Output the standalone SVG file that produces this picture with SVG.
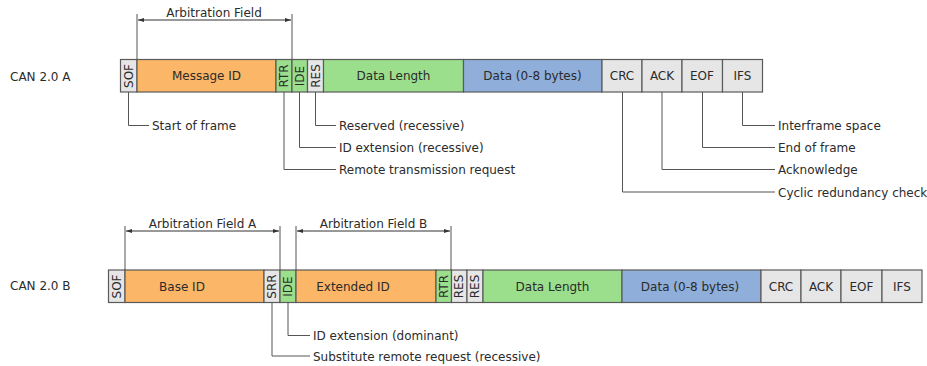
<svg xmlns="http://www.w3.org/2000/svg" width="927" height="366" viewBox="0 0 927 366">
<defs>
<marker id="arr" viewBox="0 0 6 4" refX="6" refY="2" markerWidth="6" markerHeight="4" orient="auto-start-reverse" markerUnits="userSpaceOnUse">
<path d="M0,0 L6,2 L0,4 Z" fill="#333"/>
</marker>
<style>
text{font-family:"DejaVu Sans",Verdana,sans-serif;font-size:12px;fill:#2b2b2b}
.c{text-anchor:middle}
.g{fill:#e6e6e6;stroke:#5a5a5a;stroke-width:1.2}
.o{fill:#fbb668;stroke:#5a5a5a;stroke-width:1.2}
.gr{fill:#9bdf8c;stroke:#5a5a5a;stroke-width:1.2}
.b{fill:#8faed9;stroke:#5a5a5a;stroke-width:1.2}
.ln{fill:none;stroke:#555;stroke-width:1}
.dim{fill:none;stroke:#333;stroke-width:1}
</style>
</defs>
<rect width="927" height="366" fill="#fff"/>
<text x="10" y="81">CAN 2.0 A</text>
<text x="10" y="290">CAN 2.0 B</text>

<g id="a-sof"><rect class="g" x="120.5" y="59.5" width="16.5" height="32.5"/><text class="c" transform="translate(129,76) rotate(-90)" y="4">SOF</text></g>
<g id="a-msgid"><rect class="o" x="137" y="59.5" width="139" height="32.5"/><text class="c" x="206.5" y="80">Message ID</text></g>
<g id="a-rtr"><rect class="gr" x="276" y="59.5" width="16" height="32.5"/><text class="c" transform="translate(284,76) rotate(-90)" y="4">RTR</text></g>
<g id="a-ide"><rect class="gr" x="292" y="59.5" width="15.5" height="32.5"/><text class="c" transform="translate(299.8,76) rotate(-90)" y="4">IDE</text></g>
<g id="a-res"><rect class="g" x="307.5" y="59.5" width="16" height="32.5"/><text class="c" transform="translate(315.5,76) rotate(-90)" y="4">RES</text></g>
<g id="a-dlc"><rect class="gr" x="323.5" y="59.5" width="140" height="32.5"/><text class="c" x="393.5" y="80">Data Length</text></g>
<g id="a-data"><rect class="b" x="463.5" y="59.5" width="138.5" height="32.5"/><text class="c" x="532.5" y="80">Data (0-8 bytes)</text></g>
<g id="a-crc"><rect class="g" x="602" y="59.5" width="40" height="32.5"/><text class="c" x="622" y="80">CRC</text></g>
<g id="a-ack"><rect class="g" x="642" y="59.5" width="40" height="32.5"/><text class="c" x="662" y="80">ACK</text></g>
<g id="a-eof"><rect class="g" x="682" y="59.5" width="40.5" height="32.5"/><text class="c" x="702" y="80">EOF</text></g>
<g id="a-ifs"><rect class="g" x="722.5" y="59.5" width="40" height="32.5"/><text class="c" x="742.5" y="80">IFS</text></g>

<g id="b-sof"><rect class="g" x="108.5" y="270" width="16.5" height="32.5"/><text class="c" transform="translate(117,286.5) rotate(-90)" y="4">SOF</text></g>
<g id="b-baseid"><rect class="o" x="125" y="270" width="139" height="32.5"/><text class="c" x="182" y="290.5">Base ID</text></g>
<g id="b-srr"><rect class="g" x="264" y="270" width="16" height="32.5"/><text class="c" transform="translate(272,286.5) rotate(-90)" y="4">SRR</text></g>
<g id="b-ide"><rect class="gr" x="280" y="270" width="16" height="32.5"/><text class="c" transform="translate(288,286.5) rotate(-90)" y="4">IDE</text></g>
<g id="b-extid"><rect class="o" x="296" y="270" width="140" height="32.5"/><text class="c" x="353" y="290.5">Extended ID</text></g>
<g id="b-rtr"><rect class="gr" x="436" y="270" width="15.5" height="32.5"/><text class="c" transform="translate(443.8,286.5) rotate(-90)" y="4">RTR</text></g>
<g id="b-res1"><rect class="g" x="451.5" y="270" width="15.5" height="32.5"/><text class="c" transform="translate(459.3,286.5) rotate(-90)" y="4">RES</text></g>
<g id="b-res2"><rect class="g" x="467" y="270" width="16" height="32.5"/><text class="c" transform="translate(475,286.5) rotate(-90)" y="4">RES</text></g>
<g id="b-dlc"><rect class="gr" x="483" y="270" width="139" height="32.5"/><text class="c" x="552.5" y="290.5">Data Length</text></g>
<g id="b-data"><rect class="b" x="622" y="270" width="139" height="32.5"/><text class="c" x="690" y="290.5">Data (0-8 bytes)</text></g>
<g id="b-crc"><rect class="g" x="761" y="270" width="40" height="32.5"/><text class="c" x="781" y="290.5">CRC</text></g>
<g id="b-ack"><rect class="g" x="801" y="270" width="40" height="32.5"/><text class="c" x="821" y="290.5">ACK</text></g>
<g id="b-eof"><rect class="g" x="841" y="270" width="41" height="32.5"/><text class="c" x="861.5" y="290.5">EOF</text></g>
<g id="b-ifs"><rect class="g" x="882" y="270" width="40" height="32.5"/><text class="c" x="902" y="290.5">IFS</text></g>

<g id="dimensions">
<path class="ln" d="M137,14 V59.5 M292,14 V59.5"/>
<path class="dim" d="M138,20 H291" marker-start="url(#arr)" marker-end="url(#arr)"/>
<text class="c" x="214" y="17">Arbitration Field</text>
<path class="ln" d="M125,226 V270 M280,226 V270 M296,226 V270 M451,226 V270"/>
<path class="dim" d="M126,231 H279" marker-start="url(#arr)" marker-end="url(#arr)"/>
<path class="dim" d="M297,231 H450" marker-start="url(#arr)" marker-end="url(#arr)"/>
<text class="c" x="202.5" y="228">Arbitration Field A</text>
<text class="c" x="373.5" y="228">Arbitration Field B</text>
</g>

<g id="connectors">
<path class="ln" d="M128.5,92 V125.5 H149"/>
<path class="ln" d="M315.5,92 V125.5 H336"/>
<path class="ln" d="M299.5,92 V147.5 H336"/>
<path class="ln" d="M284,92 V169.5 H336"/>
<path class="ln" d="M742.5,92 V125.5 H775"/>
<path class="ln" d="M702.5,92 V147.5 H775"/>
<path class="ln" d="M662,92 V169.5 H775"/>
<path class="ln" d="M622.5,92 V192 H775"/>
<path class="ln" d="M288,302.5 V335.5 H310"/>
<path class="ln" d="M272,302.5 V356 H310"/>
</g>

<g id="labels">
<text x="152" y="130">Start of frame</text>
<text x="339" y="130">Reserved (recessive)</text>
<text x="339" y="152">ID extension (recessive)</text>
<text x="339" y="174">Remote transmission request</text>
<text x="778" y="130">Interframe space</text>
<text x="778" y="152">End of frame</text>
<text x="778" y="174">Acknowledge</text>
<text x="778" y="196.5">Cyclic redundancy check</text>
<text x="313" y="340">ID extension (dominant)</text>
<text x="313" y="360.5">Substitute remote request (recessive)</text>
</g>
</svg>
